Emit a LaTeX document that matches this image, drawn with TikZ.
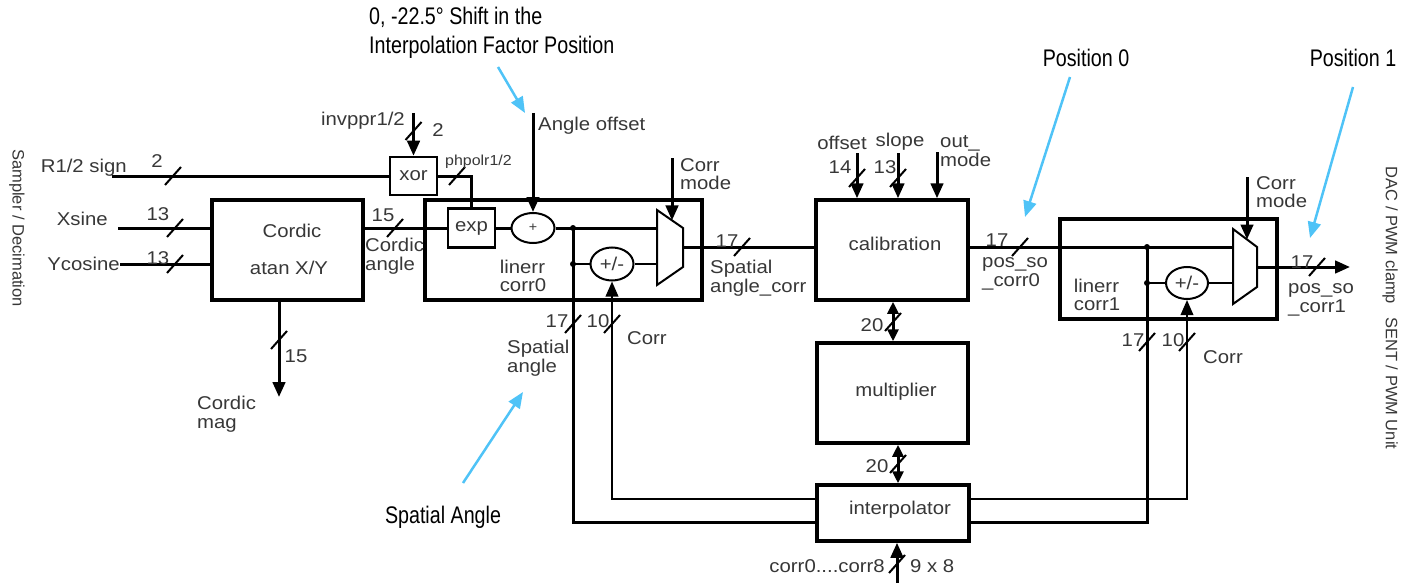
\documentclass[tikz,border=0pt]{standalone}
\usepackage{fontspec}
\setmainfont[FakeStretch=1.1]{Liberation Sans}
\newfontfamily\annfont[FakeStretch=0.82]{Liberation Sans}
\newfontfamily\vfont{Liberation Sans}
\usetikzlibrary{arrows.meta,shapes.geometric}
\definecolor{annblue}{RGB}{79,195,247}
\definecolor{txtgray}{RGB}{55,55,55}
\tikzset{
  blk/.style={draw, line width=3.5pt, rectangle, inner sep=0pt},
  sblk/.style={draw, line width=2.5pt, rectangle, inner sep=0pt, text=txtgray, font=\fontsize{18.5}{18.5}\selectfont},
  circ/.style={draw, line width=2pt, ellipse, inner sep=0pt, text=txtgray, font=\fontsize{18.5}{18.5}\selectfont},
  sig/.style={line width=3pt},
  thinsig/.style={line width=2pt},
  arr/.style={-{Triangle[length=15pt,width=12.5pt]}},
  darr/.style={{Triangle[length=12pt,width=11pt]}-{Triangle[length=12pt,width=11pt]}},
  lab/.style={inner sep=0pt, text=txtgray, font=\fontsize{18.5}{18.5}\selectfont, align=left},
  slab/.style={inner sep=0pt, text=txtgray, font=\fontsize{14.5}{14.5}\selectfont},
  vlab/.style={inner sep=0pt, text=txtgray, rotate=-90, font=\vfont\fontsize{16.5}{16.5}\selectfont},
  ann/.style={inner sep=0pt, font=\annfont\fontsize{24}{29}\selectfont, align=left},
  annarrow/.style={draw=annblue, line width=2.5pt, -{Triangle[length=16pt,width=13pt]}},
  busmark/.style={line width=2pt},
  bus/.pic={\draw[busmark] (-8,9) -- (8,-9);},
  muxshape/.style={draw, line width=2pt, line join=miter}
}
\begin{document}
\begin{tikzpicture}[x=1pt,y=-1pt]
\useasboundingbox (0,0) rectangle (1413,583);

% ---------------- blocks
\node[blk, minimum width=151pt, minimum height=100pt] (cordic) at (287.5,250) {};
\node[lab] (cordicT1) at (292,231) {Cordic};
\node[lab] (cordicT2) at (289,268) {atan X/Y};

\node[sblk, minimum width=47pt, minimum height=38pt] (xor) at (413.5,176) {xor};

\node[blk, minimum width=277pt, minimum height=100pt] (lin0) at (563.5,250) {};
\node[sblk, minimum width=47pt, minimum height=39pt] (exp) at (471.5,228) {exp};
\node[circ, minimum width=43pt, minimum height=30pt, font=\fontsize{13}{13}\selectfont] (plus0) at (533,228) {+};
\node[circ, minimum width=43pt, minimum height=33pt] (pm0) at (612,264) {+/-};
\node[lab] (lin0T) at (523,276) {linerr\\corr0};
\coordinate (m0a) at (657,210);
\coordinate (m0b) at (683,228);
\coordinate (m0c) at (683,267);
\coordinate (m0d) at (657,285);
\draw[muxshape] (m0a) -- (m0b) -- (m0c) -- (m0d) -- cycle;

\node[blk, minimum width=152pt, minimum height=100pt] (calib) at (892,250) {};
\node[lab] (calibT) at (895,244) {calibration};
\node[blk, minimum width=151pt, minimum height=100pt] (mult) at (892.5,393) {};
\node[lab] (multT) at (896,392) {multiplier};
\node[blk, minimum width=152pt, minimum height=56pt] (interp) at (893,513) {};
\node[lab] (interpT) at (900,510) {interpolator};

\node[blk, minimum width=217pt, minimum height=100pt] (lin1) at (1168.5,269) {};
\node[circ, minimum width=42pt, minimum height=32pt] (pm1) at (1187,283) {+/-};
\node[lab] (lin1T) at (1097,295) {linerr\\corr1};
\coordinate (m1a) at (1233,229);
\coordinate (m1b) at (1257,247);
\coordinate (m1c) at (1257,287);
\coordinate (m1d) at (1233,304);
\draw[muxshape] (m1a) -- (m1b) -- (m1c) -- (m1d) -- cycle;

% ---------------- left inputs
\node[vlab] (samp) at (17,228) {Sampler / Decimation};

\coordinate (r12s) at (112,176);
\draw[sig] (r12s) -- (xor.west);
\node[lab, anchor=east] (r12T) at (127,168) {R1/2 sign};
\pic at (173,176) {bus};
\node[lab] (b2a) at (157,161) {2};

\coordinate (xs) at (118,228);
\draw[sig] (xs) -- (xs -| cordic.west);
\node[lab, anchor=east] (xsT) at (108,219) {Xsine};
\pic at (175,228) {bus};
\node[lab] (b13a) at (158,214) {13};

\coordinate (yc) at (120,264);
\draw[sig] (yc) -- (yc -| cordic.west);
\node[lab, anchor=east] (ycT) at (120,264) {Ycosine};
\pic at (175,264) {bus};
\node[lab] (b13b) at (158,258) {13};

% cordic mag
\coordinate (cmag) at (279,397);
\draw[sig, arr] (cmag |- cordic.south) -- (cmag);
\pic at (279,340) {bus};
\node[lab] (b15b) at (296,356) {15};
\node[lab, anchor=west] (cmagT) at (197,414) {Cordic\\mag};

% invppr
\coordinate (inv) at (413.5,113);
\draw[sig, arr] (inv) -- (xor.north);
\node[lab, anchor=east] (invT) at (405,121) {invppr1/2};
\pic at (413.5,131) {bus};
\node[lab] (b2b) at (438,130) {2};

% xor -> exp
\draw[sig] (xor.east) -- (xor.east -| exp.north) -- (exp.north);
\pic at (457,176) {bus};
\node[slab, anchor=west] (phT) at (445,162) {phpolr1/2};

% cordic -> exp
\draw[sig] (cordic.east |- exp.west) -- (exp.west);
\pic at (395,228) {bus};
\node[lab] (b15a) at (383,215) {15};
\node[lab, anchor=west] (caT) at (365,256) {Cordic\\angle};

% exp -> plus
\draw[sig] (exp.east) -- (plus0.west);
\coordinate (ao) at (533,113);
\draw[sig, arr] (ao) -- (plus0.north);
\node[lab, anchor=west] (aoT) at (538,126) {Angle offset};

% plus -> mux0
\coordinate (m0in1) at (657,228);
\draw[sig] (plus0.east) -- (m0in1);
\coordinate (j0a) at (573,228);
\coordinate (j0b) at (573,264);
\coordinate (j0c) at (573,522);
\draw[sig] (j0a) -- (j0c) -- (j0c -| interp.west);
\draw[thinsig] (j0b) -- (pm0.west);
\coordinate (m0in2) at (657,264);
\draw[thinsig] (pm0.east) -- (m0in2);
\fill (j0a) circle (3pt);
\fill (j0b) circle (3pt);

\coordinate (c0) at (612,499);
\draw[thinsig, arr] (c0 -| interp.west) -- (c0) -- (pm0.south);
\pic at (573,324) {bus};
\node[lab] (b17c) at (557,321) {17};
\pic at (612,324) {bus};
\node[lab] (b10a) at (598,321) {10};
\node[lab, anchor=west] (corrA) at (627,338) {Corr};
\node[lab, anchor=west] (spT) at (507,358) {Spatial\\angle};

% corr mode 0
\coordinate (cm0) at (672,158);
\coordinate (cm0e) at (672,220.4);
\draw[sig, arr] (cm0) -- (cm0e);
\node[lab, anchor=west] (cm0T) at (680,174) {Corr\\mode};

% mux0 -> calib
\coordinate (m0out) at (683,247);
\draw[sig] (m0out) -- (m0out -| calib.west);
\pic at (742,247) {bus};
\node[lab] (b17a) at (727,241) {17};
\node[lab, anchor=west] (sacT) at (710,278) {Spatial\\angle\_corr};

% calibration inputs
\coordinate (off) at (857,153);
\coordinate (slp) at (898,153);
\coordinate (outm) at (937,152);
\draw[sig, arr] (off) -- (off |- calib.north);
\draw[sig, arr] (slp) -- (slp |- calib.north);
\draw[sig, arr] (outm) -- (outm |- calib.north);
\node[lab] (offT) at (842,143) {offset};
\node[lab] (slpT) at (900,142) {slope};
\node[lab, anchor=west] (outmT) at (940,151) {out\_\\mode};
\pic at (857,178) {bus};
\node[lab] (b14) at (840,167) {14};
\pic at (898,178) {bus};
\node[lab] (b13c) at (885,167) {13};

% calib -> mux1
\coordinate (m1in1) at (1233,247);
\draw[sig] (calib.east |- m1in1) -- (m1in1);
\pic at (1020,247) {bus};
\node[lab] (b17b) at (997,240) {17};
\node[lab, anchor=west] (ps0T) at (982,274) {pos\_so\\\_corr0};

\coordinate (j1a) at (1147,247);
\coordinate (j1b) at (1147,283);
\coordinate (j1c) at (1147,522);
\draw[sig] (j1a) -- (j1c) -- (j1c -| interp.east);
\draw[thinsig] (j1b) -- (pm1.west);
\coordinate (m1in2) at (1233,283);
\draw[thinsig] (pm1.east) -- (m1in2);
\fill (j1a) circle (3pt);
\fill (j1b) circle (3pt);

\coordinate (c1) at (1187,499);
\draw[thinsig, arr] (c1 -| interp.east) -- (c1) -- (pm1.south);
\pic at (1147,342) {bus};
\node[lab] (b17d) at (1133,340) {17};
\pic at (1187,342) {bus};
\node[lab] (b10b) at (1173,340) {10};
\node[lab, anchor=west] (corrB) at (1203,357) {Corr};

% corr mode 1
\coordinate (cm1) at (1247,177);
\coordinate (cm1e) at (1247,239.5);
\draw[sig, arr] (cm1) -- (cm1e);
\node[lab, anchor=west] (cm1T) at (1256,192) {Corr\\mode};

% output
\coordinate (m1out) at (1257,267);
\coordinate (outend) at (1350,267);
\draw[sig, arr] (m1out) -- (outend);
\pic at (1317,267) {bus};
\node[lab] (b17e) at (1302,262) {17};
\node[lab, anchor=west] (ps1T) at (1288,300) {pos\_so\\\_corr1};

\node[vlab] (dac) at (1390,308) {DAC / PWM clamp\hspace{0.8em}SENT / PWM Unit};

% calib <-> mult <-> interp
\coordinate (x1) at (893,0);
\coordinate (x2) at (898,0);
\draw[sig, darr] (x1 |- calib.south) -- (x1 |- mult.north);
\draw[sig, darr] (x2 |- mult.south) -- (x2 |- interp.north);
\pic at (893,322) {bus};
\node[lab] (b20a) at (872,325) {20};
\pic at (898,464) {bus};
\node[lab] (b20b) at (877,466) {20};

% bottom input
\coordinate (cb) at (897,583);
\draw[sig, arr] (cb) -- (cb |- interp.south);
\pic at (897,564) {bus};
\node[lab, anchor=east] (corrsT) at (885,566) {corr0....corr8};
\node[lab, anchor=west] (n98) at (910,566) {9 x 8};

% ---------------- annotations
\node[ann, anchor=west] (annShift) at (369,32.5) {0, -22.5° Shift in the\\Interpolation Factor Position};
\coordinate (a1s) at (498,67);
\coordinate (a1e) at (525,113);
\draw[annarrow] (a1s) -- (a1e);

\node[ann] (annSp) at (443,517) {Spatial Angle};
\coordinate (a2s) at (463,483);
\coordinate (a2e) at (523,392);
\draw[annarrow] (a2s) -- (a2e);

\node[ann] (annP0) at (1086,58) {Position 0};
\coordinate (a3s) at (1070,77);
\coordinate (a3e) at (1025,217);
\draw[annarrow] (a3s) -- (a3e);

\node[ann] (annP1) at (1353,58) {Position 1};
\coordinate (a4s) at (1353,87);
\coordinate (a4e) at (1310,238);
\draw[annarrow] (a4s) -- (a4e);
\end{tikzpicture}
\end{document}
